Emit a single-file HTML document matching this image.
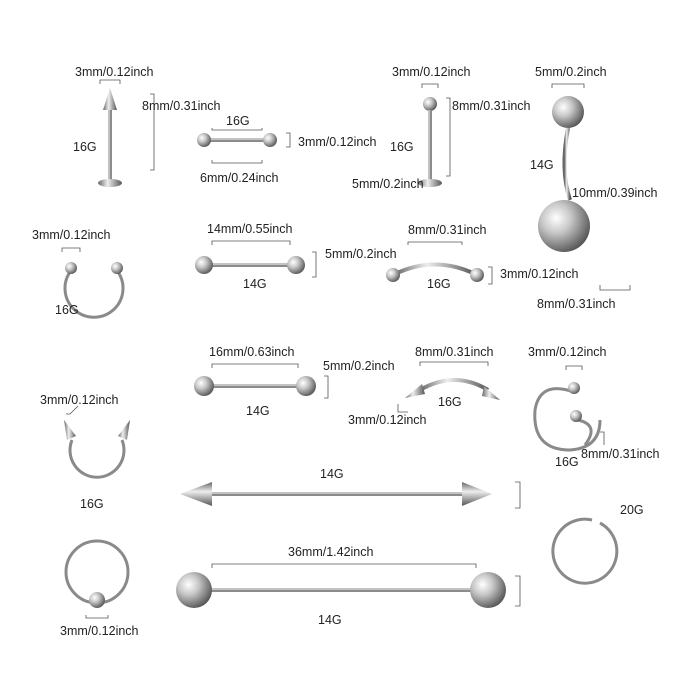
<!DOCTYPE html>
<html><head><meta charset="utf-8"><style>
html,body{margin:0;padding:0;background:#fff}
svg{display:block}
text{font-family:"Liberation Sans",sans-serif;font-size:12.5px;fill:#222}
.d{stroke:#555;stroke-width:0.8;fill:none}
.bar{stroke:#8c8c8c;stroke-width:4;fill:none}
.hl{stroke:#e4e4e4;stroke-width:1.2;fill:none}
.ring{stroke:#8a8a8a;stroke-width:3;fill:none}
</style></head><body>
<svg width="694" height="699" viewBox="0 0 694 699">
<defs>
<radialGradient id="ball" cx="35%" cy="35%" r="70%"><stop offset="0" stop-color="#fff"/><stop offset="0.4" stop-color="#c8c8c8"/><stop offset="1" stop-color="#555"/></radialGradient>
<linearGradient id="cone" x1="0" y1="0" x2="1" y2="0"><stop offset="0" stop-color="#666"/><stop offset="0.4" stop-color="#eee"/><stop offset="1" stop-color="#555"/></linearGradient>
<linearGradient id="coneh" x1="0" y1="0" x2="0" y2="1"><stop offset="0" stop-color="#666"/><stop offset="0.4" stop-color="#eee"/><stop offset="1" stop-color="#555"/></linearGradient>
</defs>

<!-- Item 1: labret spike -->
<polygon points="110,88 103,110 117,110" fill="url(#cone)"/>
<line x1="110" y1="110" x2="110" y2="180" class="bar"/><line x1="109" y1="110" x2="109" y2="180" class="hl"/>
<ellipse cx="110" cy="183" rx="12" ry="4" fill="url(#cone)"/>
<path class="d" d="M100,84 V80 H120 V84"/><path class="d" d="M150,94 H154 V170 H150"/>
<text x="75" y="76">3mm/0.12inch</text><text x="142" y="110">8mm/0.31inch</text><text x="73" y="151">16G</text>

<!-- Item 2: small barbell -->
<line x1="205" y1="140" x2="270" y2="140" class="bar"/><line x1="205" y1="139" x2="270" y2="139" class="hl"/>
<circle cx="204" cy="140" r="7" fill="url(#ball)"/><circle cx="270" cy="140" r="7" fill="url(#ball)"/>
<path class="d" d="M212,128 V130 H262 V128"/><path class="d" d="M286,133 H290 V147 H286"/><path class="d" d="M212,160 V163 H262 V160"/>
<text x="226" y="125">16G</text><text x="298" y="146">3mm/0.12inch</text><text x="200" y="182">6mm/0.24inch</text>

<!-- Item 3: labret ball -->
<circle cx="430" cy="104" r="7" fill="url(#ball)"/>
<line x1="430" y1="110" x2="430" y2="180" class="bar"/><line x1="429" y1="110" x2="429" y2="180" class="hl"/>
<ellipse cx="430" cy="183" rx="12" ry="4" fill="url(#cone)"/>
<path class="d" d="M422,88 V84 H438 V88"/><path class="d" d="M446,98 H450 V176 H446"/>
<text x="392" y="76">3mm/0.12inch</text><text x="452" y="110">8mm/0.31inch</text><text x="390" y="151">16G</text><text x="352" y="188">5mm/0.2inch</text>

<!-- Item 4: belly ring -->
<circle cx="568" cy="112" r="16" fill="url(#ball)"/>
<path d="M568,128 Q560,170 570,200" stroke="url(#cone)" stroke-width="4" fill="none"/>
<circle cx="564" cy="226" r="26" fill="url(#ball)"/>
<path class="d" d="M552,88 V84 H584 V88"/><path class="d" d="M600,285 V290 H630 V285"/>
<text x="535" y="76">5mm/0.2inch</text><text x="530" y="169">14G</text><text x="572" y="197">10mm/0.39inch</text>

<!-- Row2 horseshoe -->
<path d="M70,272 A29,29 0 1,0 118,272" class="ring"/>
<circle cx="71" cy="268" r="6" fill="url(#ball)"/><circle cx="117" cy="268" r="6" fill="url(#ball)"/>
<path class="d" d="M62,252 V248 H80 V252"/>
<text x="32" y="239">3mm/0.12inch</text><text x="55" y="314">16G</text>

<!-- 14mm barbell -->
<line x1="205" y1="265" x2="295" y2="265" class="bar"/><line x1="205" y1="264" x2="295" y2="264" class="hl"/>
<circle cx="204" cy="265" r="9" fill="url(#ball)"/><circle cx="296" cy="265" r="9" fill="url(#ball)"/>
<path class="d" d="M212,245 V241 H290 V245"/><path class="d" d="M312,252 H316 V277 H312"/>
<text x="207" y="233">14mm/0.55inch</text><text x="325" y="258">5mm/0.2inch</text><text x="243" y="288">14G</text>

<!-- curved barbell -->
<path d="M395,274 Q435,255 475,274" stroke="url(#cone)" stroke-width="4" fill="none"/>
<circle cx="393" cy="275" r="7" fill="url(#ball)"/><circle cx="477" cy="275" r="7" fill="url(#ball)"/>
<path class="d" d="M408,245 V242 H462 V245"/><path class="d" d="M488,267 H492 V284 H488"/>
<text x="408" y="234">8mm/0.31inch</text><text x="500" y="278">3mm/0.12inch</text><text x="427" y="288">16G</text><text x="537" y="308">8mm/0.31inch</text>

<!-- Row3 16mm barbell -->
<line x1="205" y1="386" x2="305" y2="386" class="bar"/><line x1="205" y1="385" x2="305" y2="385" class="hl"/>
<circle cx="204" cy="386" r="10" fill="url(#ball)"/><circle cx="306" cy="386" r="10" fill="url(#ball)"/>
<path class="d" d="M212,368 V364 H298 V368"/><path class="d" d="M324,376 H328 V398 H324"/>
<text x="209" y="356">16mm/0.63inch</text><text x="323" y="370">5mm/0.2inch</text><text x="246" y="415">14G</text>

<!-- curved spike -->
<path d="M420,390 Q455,370 488,390" stroke="url(#cone)" stroke-width="4" fill="none"/>
<polygon points="405,398 422,384 425,394" fill="url(#cone)"/><polygon points="500,400 484,386 482,396" fill="url(#cone)"/>
<path class="d" d="M420,366 V362 H488 V366"/><path class="d" d="M398,404 V412 H408"/>
<text x="415" y="356">8mm/0.31inch</text><text x="438" y="406">16G</text><text x="348" y="424">3mm/0.12inch</text>

<!-- spiral -->
<path d="M574,392 Q540,380 535,410 Q532,450 570,450 Q600,448 600,420" class="ring"/>
<path d="M578,420 Q600,425 585,445" class="ring"/>
<circle cx="574" cy="388" r="6" fill="url(#ball)"/><circle cx="576" cy="416" r="6" fill="url(#ball)"/>
<path class="d" d="M566,370 V366 H582 V370"/><path class="d" d="M600,432 H604 V445"/>
<text x="528" y="356">3mm/0.12inch</text><text x="555" y="466">16G</text><text x="581" y="458">8mm/0.31inch</text>

<!-- horseshoe spike -->
<path d="M72,440 A27,27 0 1,0 122,440" class="ring"/>
<polygon points="64,420 76,436 67,440" fill="url(#cone)"/><polygon points="130,420 118,436 127,440" fill="url(#cone)"/>
<path class="d" d="M70,414 L78,406 M70,414 H66"/>
<text x="40" y="404">3mm/0.12inch</text><text x="80" y="508">16G</text>

<!-- captive ring -->
<circle cx="97" cy="572" r="31" class="ring"/>
<circle cx="97" cy="600" r="8" fill="url(#ball)"/>
<path class="d" d="M86,615 V618 H108 V615"/>
<text x="60" y="635">3mm/0.12inch</text>

<!-- industrial spike -->
<line x1="210" y1="494" x2="465" y2="494" class="bar"/><line x1="210" y1="493" x2="465" y2="493" class="hl"/>
<polygon points="180,494 212,482 212,506" fill="url(#coneh)"/><polygon points="492,494 462,482 462,506" fill="url(#coneh)"/>
<path class="d" d="M515,482 H520 V508 H515"/>
<text x="320" y="478">14G</text>

<!-- industrial ball -->
<line x1="210" y1="590" x2="480" y2="590" class="bar"/><line x1="210" y1="589" x2="480" y2="589" class="hl"/>
<circle cx="194" cy="590" r="18" fill="url(#ball)"/><circle cx="488" cy="590" r="18" fill="url(#ball)"/>
<path class="d" d="M212,568 V564 H476 V568"/><path class="d" d="M515,576 H520 V606 H515"/>
<text x="288" y="556">36mm/1.42inch</text><text x="318" y="624">14G</text>

<!-- seamless ring -->
<path d="M592,520 A32,32 0 1,0 600,523" class="ring"/>
<text x="620" y="514">20G</text>
</svg>
</body></html>
